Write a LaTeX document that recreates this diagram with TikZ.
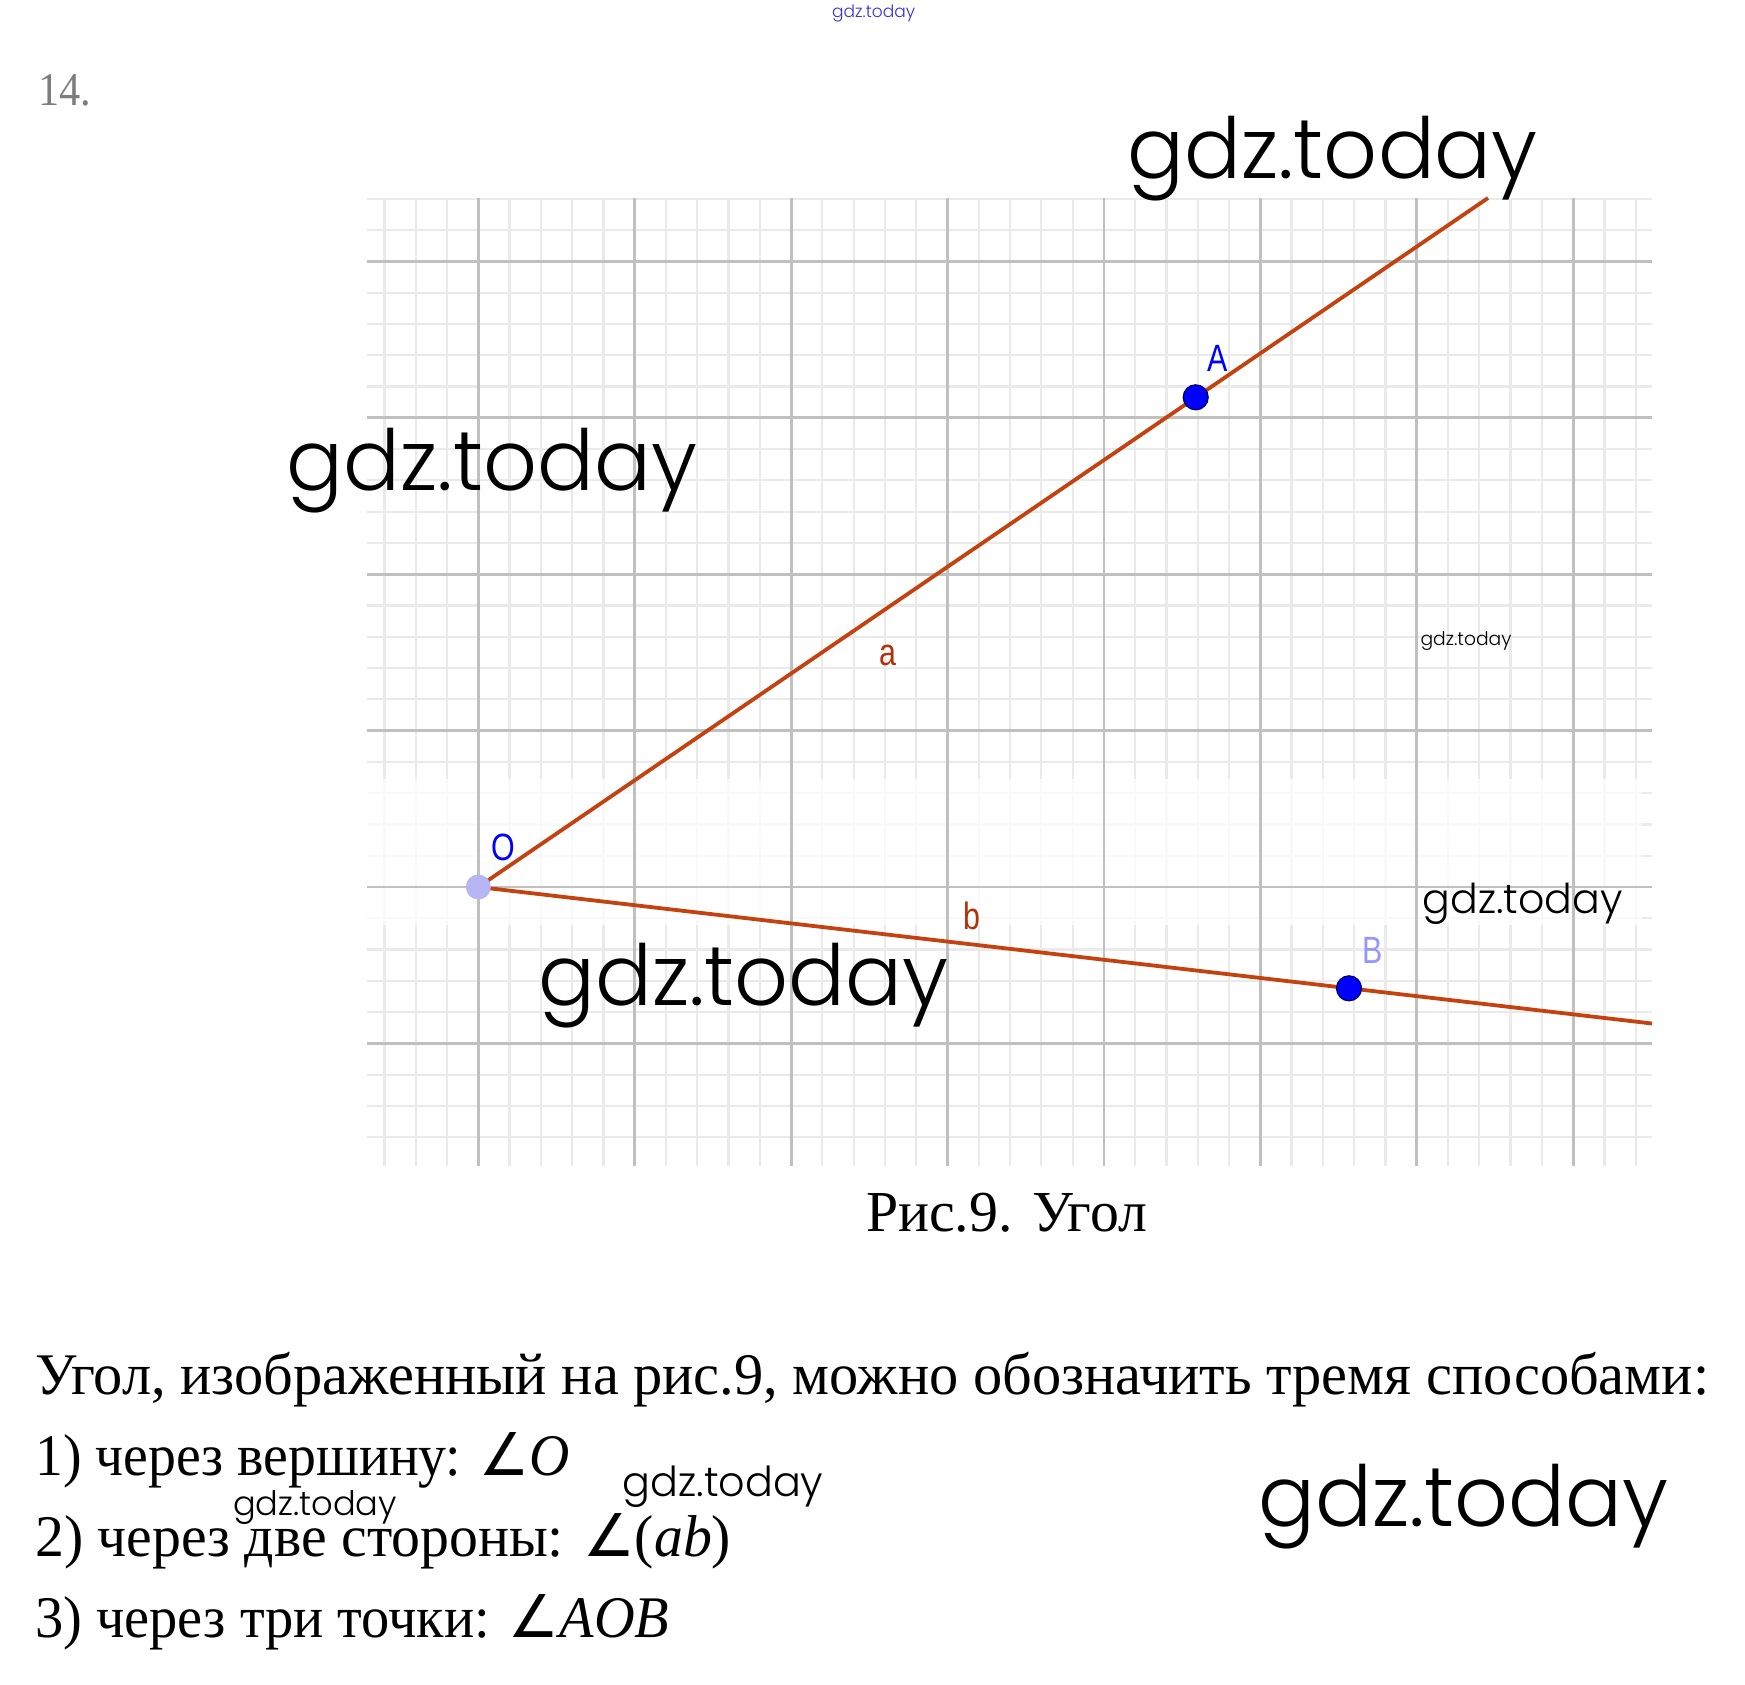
\documentclass[tikz,border=0pt]{standalone}
\usepackage{fontspec}
\usepackage{graphicx}
\setmainfont{Liberation Serif}
\newfontfamily\lblfont{Liberation Sans}
\newfontfamily\wmfont{Poppins Light}
\newfontfamily\symfont{DejaVu Sans}
\definecolor{gmaj}{RGB}{192,192,192}
\definecolor{gmin}{RGB}{234,234,234}
\definecolor{raycol}{RGB}{196,66,16}
\definecolor{lblbrown}{RGB}{175,50,10}
\definecolor{ptblue}{RGB}{0,0,255}
\definecolor{ptdark}{RGB}{0,0,90}
\definecolor{ptlight}{RGB}{182,182,245}
\definecolor{blight}{RGB}{150,150,255}
\definecolor{numgray}{RGB}{125,125,125}
\definecolor{wmblue}{RGB}{50,50,215}
\begin{document}
\begin{tikzpicture}[x=1pt,y=-1pt,
  gminor/.style={draw=gmin,line width=2.2pt},
  gmajor/.style={draw=gmaj,line width=2.8pt},
  rayline/.style={draw=raycol,line width=3.8pt},
  ptdot/.style={circle,fill=ptblue,draw=ptdark,line width=1.2pt,minimum size=25pt,inner sep=0pt},
  ptodot/.style={circle,fill=ptlight,draw=none,minimum size=25pt,inner sep=0pt},
  lbl/.style={inner sep=0pt,font=\lblfont\fontsize{38}{40}\selectfont},
  wm/.style={inner sep=0pt,text=black,font=\wmfont\fontsize{80}{80}\selectfont},
  body/.style={inner sep=0pt,anchor=base west,text=black,font=\fontsize{59}{59}\selectfont}
]
\useasboundingbox (0,0) rectangle (1745,1684);
% grid
\foreach \k in {-3,...,37}
  \draw[gminor] ({478.3+31.28*\k},198) -- ({478.3+31.28*\k},1166);
\foreach \j in {-22,...,8}
  \draw[gminor] (367,{887+31.28*\j}) -- (1652,{887+31.28*\j});
\fill[white,opacity=0.75] (367,779) rectangle (1642,925);
\foreach \m in {0,...,7}
  \draw[gmajor] ({478.3+156.4*\m},198) -- ({478.3+156.4*\m},1166);
\foreach \m in {-4,...,1}
  \draw[gmajor] (367,{887+156.4*\m}) -- (1652,{887+156.4*\m});
% points and rays
\coordinate (O) at (478.3,887);
\coordinate (A) at (1195.7,397.3);
\coordinate (B) at (1349,988.3);
\coordinate (aend) at (1488,198);
\coordinate (bend) at (1652,1023.5);
\draw[rayline] (O) -- (aend);
\draw[rayline] (O) -- (bend);
\node[ptodot] (Odot) at (O) {};
\node[ptdot] (Adot) at (A) {};
\node[ptdot] (Bdot) at (B) {};
\node[lbl,text=ptblue] (Olbl) at (503,847) {\scalebox{0.8}[1]{O}};
\node[lbl,text=ptblue] (Albl) at (1218,358) {\scalebox{0.8}[1]{A}};
\node[lbl,text=blight] (Blbl) at (1373,950) {\scalebox{0.8}[1]{B}};
\node[lbl,text=lblbrown] (albl) at (888,655) {\scalebox{0.8}[1]{a}};
\node[lbl,text=lblbrown] (blbl) at (971.5,916) {\scalebox{0.8}[1]{b}};
% number and caption
\node[inner sep=0pt,anchor=base west,text=numgray,font=\fontsize{47}{47}\selectfont] (num) at (38,105) {\resizebox{53pt}{\height}{14.}};
\node[body,font=\fontsize{58}{58}\selectfont] (cap) at (866,1231.7) {\resizebox{281pt}{\height}{Рис.9. Угол}};
% body text
\node[body] (t1) at (35,1394) {\resizebox{1674pt}{\height}{Угол, изображенный на рис.9, можно обозначить тремя способами:}};
\node[body] (t2) at (35,1475) {\resizebox{535pt}{\height}{1) через вершину: {\symfont ∠}\textit{O}}};
\node[body] (t3) at (35,1556) {\resizebox{696pt}{\height}{2) через две стороны: {\symfont ∠}(\textit{ab})}};
\node[body] (t4) at (35,1637) {\resizebox{634pt}{\height}{3) через три точки: {\symfont ∠}\textit{AOB}}};
% watermarks
\node[wm] (w1) at (1332.7,159) {\resizebox{410pt}{!}{gdz.today}};
\node[wm] (w2) at (492,471) {\resizebox{410pt}{!}{gdz.today}};
\node[wm] (w3) at (743.5,986) {\resizebox{410pt}{!}{gdz.today}};
\node[wm] (w4) at (1463.5,1507) {\resizebox{410pt}{!}{gdz.today}};
\node[wm] (w5) at (1466,641) {\resizebox{91pt}{!}{gdz.today}};
\node[wm] (w6) at (1522.5,904) {\resizebox{200pt}{!}{gdz.today}};
\node[wm] (w7) at (723,1487) {\resizebox{201pt}{!}{gdz.today}};
\node[wm] (w8) at (315,1508) {\resizebox{164pt}{!}{gdz.today}};
\node[wm,text=wmblue] (w9) at (873.6,13) {\resizebox{83pt}{!}{gdz.today}};
\end{tikzpicture}
\end{document}
